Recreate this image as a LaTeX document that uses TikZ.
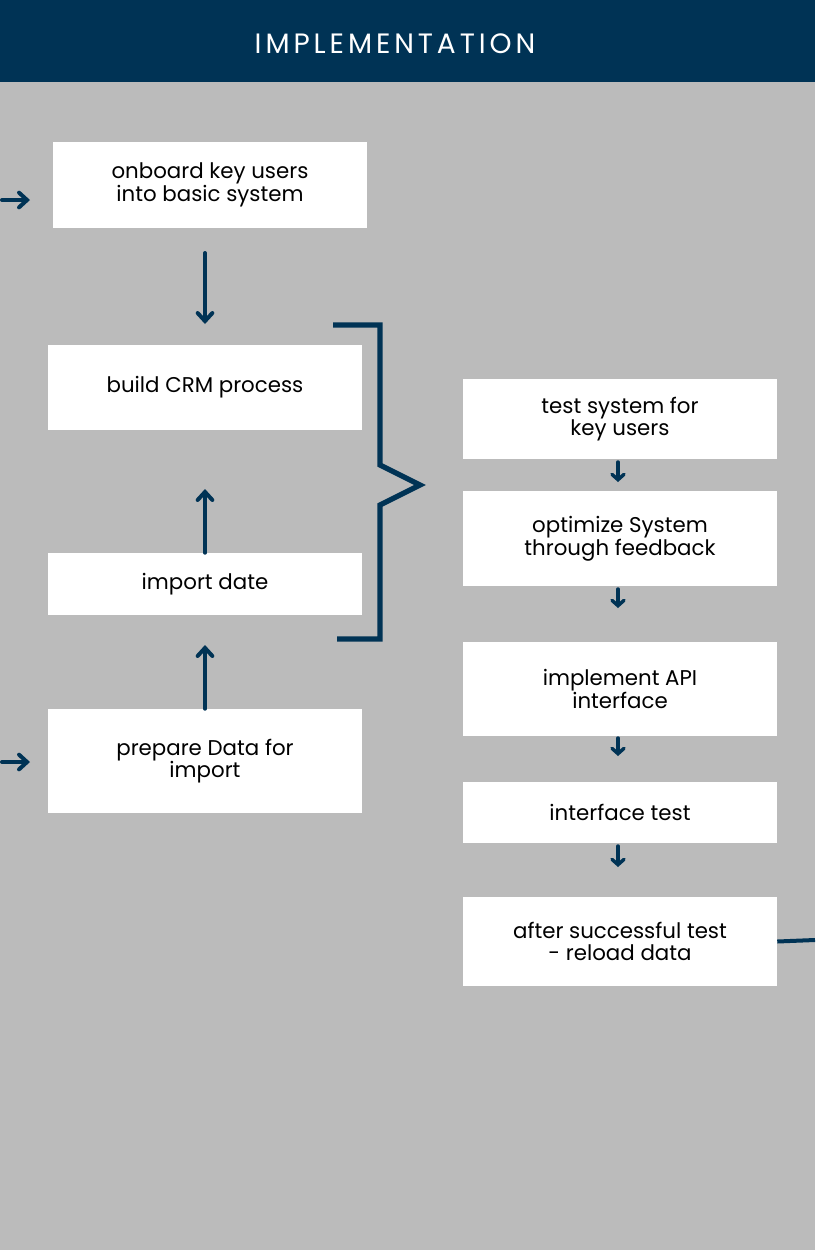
\documentclass[tikz,border=0pt]{standalone}
\usepackage{fontspec}
\setmainfont{Poppins}
\usetikzlibrary{arrows.meta}
\definecolor{navy}{RGB}{0,51,85}
\definecolor{bg}{RGB}{187,187,187}
\begin{document}
\begin{tikzpicture}[x=0.75pt,y=-0.75pt,
  box/.style={draw=none,fill=white,inner sep=0pt,align=center,font=\fontsize{16}{17}\selectfont,text=black},
  arr/.style={navy,line width=3pt,line cap=round,-{Straight Barb[length=6pt,width=11pt,line cap=round]}},
  sarr/.style={navy,line width=2.6pt,line cap=round,-{Straight Barb[length=4pt,width=9pt,line cap=round]}}]
\useasboundingbox (0,0) rectangle (815,1250);
\fill[bg] (0,0) rectangle (815,1250);
\fill[navy] (0,0) rectangle (815,82);
\node[text=white,font=\fontsize{21}{22}\selectfont\addfontfeatures{LetterSpace=14}] (title) at (395,44) {IMPLEMENTATION};
\node[box,minimum width=314*0.75pt,minimum height=86*0.75pt] (onb) at (210,185) {onboard key users\\into basic system};
\node[box,minimum width=314*0.75pt,minimum height=85*0.75pt] (crm) at (205,387.5) {build CRM process};
\node[box,minimum width=314*0.75pt,minimum height=62*0.75pt] (imp) at (205,584) {import date};
\node[box,minimum width=314*0.75pt,minimum height=104*0.75pt] (prep) at (205,761) {prepare Data for\\import};
\node[box,minimum width=314*0.75pt,minimum height=80*0.75pt] (test) at (620,419) {test system for\\key users};
\node[box,minimum width=314*0.75pt,minimum height=95*0.75pt] (opt) at (620,538.5) {optimize System\\through feedback};
\node[box,minimum width=314*0.75pt,minimum height=94*0.75pt] (api) at (620,689) {implement API\\interface};
\node[box,minimum width=314*0.75pt,minimum height=61*0.75pt] (itest) at (620,812.5) {interface test};
\node[box,minimum width=314*0.75pt,minimum height=89*0.75pt] (after) at (620,941.5) {after successful test\\- reload data};
\coordinate (in1) at (2,200);
\coordinate (in2) at (2,762);
\coordinate (out) at (815,940);
\draw[arr] (in1) -- (30,200);
\draw[arr] (in2) -- (30,762);
\draw[arr] (205,253) -- (205,324);
\draw[arr] (imp.north) -- (205,489);
\draw[arr] (prep.north) -- (205,645);
\draw[sarr] (618,462) -- (618,482);
\draw[sarr] (618,589) -- (618,608);
\draw[sarr] (618,738) -- (618,756);
\draw[sarr] (618,846) -- (618,867);
\draw[navy,line width=3pt] (after.east) -- (out);
\draw[navy,line width=4pt,line join=miter] (333,325) -- (380,325) -- (380,465) -- (420,485) -- (380,505) -- (380,639) -- (337,639);
\end{tikzpicture}
\end{document}
